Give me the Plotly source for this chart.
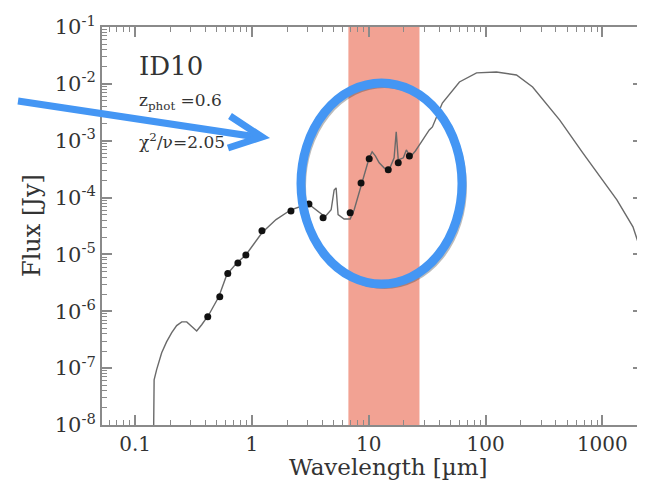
import plotly.graph_objects as go

# ---------------- data ----------------
wl_model = [0.1428, 0.1456, 0.153, 0.169, 0.186, 0.206, 0.227, 0.251, 0.277, 0.305,
            0.337, 0.372, 0.428, 0.521, 0.610, 0.743, 0.888, 1.22, 1.61, 2.16,
            2.69, 3.21, 3.76, 4.23, 4.77, 5.06, 5.26, 5.47, 6.16, 6.94,
            7.51, 8.63, 9.53, 10.1, 10.7, 11.4, 12.3, 13.6, 15.0, 16.5,
            17.2, 17.9, 19.8, 21.0, 22.7, 25.1, 27.1, 33.0, 35.1, 42.7,
            59.8, 83.8, 124, 184, 253, 432, 680, 1332, 1828, 2228, 2600]
flux_model = [1e-9, 6.25e-8, 9.4e-8, 1.86e-7, 2.9e-7, 4.2e-7, 5.6e-7, 6.5e-7, 6.5e-7, 5.35e-7,
              4.5e-7, 5.8e-7, 8.7e-7, 1.8e-6, 4.4e-6, 7.1e-6, 9.8e-6, 2.4e-5, 4.1e-5, 6.1e-5,
              7.1e-5, 7.1e-5, 5.6e-5, 4.6e-5, 6.1e-5, 1.36e-4, 1.48e-4, 5.0e-5, 4.2e-5, 4.2e-5,
              6.1e-5, 1.67e-4, 3.6e-4, 5.0e-4, 6.4e-4, 5.4e-4, 4.1e-4, 3.3e-4, 3.1e-4, 5.0e-4,
              1.43e-3, 4.6e-4, 5.0e-4, 6.9e-4, 5.2e-4, 6.6e-4, 8.4e-4, 1.55e-3, 1.75e-3, 4.6e-3,
              1.08e-2, 1.56e-2, 1.62e-2, 1.43e-2, 8.8e-3, 2.3e-3, 6.1e-4, 9.1e-5, 3.05e-5, 9.1e-6, 3.0e-6]

wl_obs = [0.419, 0.531, 0.622, 0.759, 0.888, 1.22, 2.16, 3.08, 4.07,
          6.94, 8.6, 10.1, 14.7, 17.9, 22.3]
flux_obs = [8.0e-7, 1.8e-6, 4.6e-6, 7.1e-6, 9.8e-6, 2.6e-5, 5.8e-5, 7.7e-5, 4.4e-5,
            5.4e-5, 1.8e-4, 4.8e-4, 3.1e-4, 4.1e-4, 5.4e-4]

band_wl = [6.7, 27.2]  # highlighted wavelength band (µm)

x_tickvals = [0.1, 1, 10, 100, 1000]
x_ticktext = ["0.1", "1", "10", "100", "1000"]
y_tickvals = [1e-8, 1e-7, 1e-6, 1e-5, 1e-4, 1e-3, 1e-2, 1e-1]
y_ticktext = ["10<sup>-8</sup>", "10<sup>-7</sup>", "10<sup>-6</sup>", "10<sup>-5</sup>",
              "10<sup>-4</sup>", "10<sup>-3</sup>", "10<sup>-2</sup>", "10<sup>-1</sup>"]

minor_x = [k * 10.0 ** e for e in range(-2, 4) for k in range(2, 10)]
minor_y = [k * 10.0 ** e for e in range(-9, 0) for k in range(2, 10)]

FONT = "DejaVu Serif"
TXT = "#333333"
AX = "#8a8a8a"
BLUE = "#4496F4"

fig = go.Figure()

# shaded band
fig.add_trace(go.Scatter(
    x=[band_wl[0], band_wl[1], band_wl[1], band_wl[0], band_wl[0]],
    y=[1e-10, 1e-10, 10, 10, 1e-10],
    fill="toself", fillcolor="#F2A293", line=dict(width=0),
    mode="lines", hoverinfo="skip", showlegend=False))

# model SED
fig.add_trace(go.Scatter(
    x=wl_model, y=flux_model, mode="lines",
    line=dict(color="#6a6a6a", width=1.4), showlegend=False))

# photometry
fig.add_trace(go.Scatter(
    x=wl_obs, y=flux_obs, mode="markers",
    marker=dict(color="#111111", size=7), showlegend=False))

axis_common = dict(
    type="log", showline=True, linecolor=AX, linewidth=2, mirror="ticks",
    ticks="inside", ticklen=10, tickwidth=1.5, tickcolor=AX,
    showgrid=False, zeroline=False, automargin=False,
    tickfont=dict(family=FONT, size=20, color=TXT),
)

fig.update_xaxes(
    **axis_common, range=[-1.283, 3.348],
    tickmode="array", tickvals=x_tickvals, ticktext=x_ticktext,
    minor=dict(tickmode="array", tickvals=minor_x, ticks="inside", ticklen=5,
               tickwidth=1, tickcolor=AX, showgrid=False),
)
fig.update_yaxes(
    **axis_common, range=[-8, -1],
    tickmode="array", tickvals=y_tickvals, ticktext=y_ticktext,
    minor=dict(tickmode="array", tickvals=minor_y, ticks="inside", ticklen=5,
               tickwidth=1, tickcolor=AX, showgrid=False),
)
fig.update_yaxes(tickfont=dict(family=FONT, size=21, color=TXT))

# page body has an 8px default margin, so the figure is shrunk by that amount
OFF = 8
W, H = 645 - OFF, 482 - OFF
L, R, T, B = 102 - OFF, 2, 27 - OFF, 57
pw, ph = W - L - R, H - T - B


def px(x):
    return (x - OFF - L) / pw


def py(y):
    return (H - B - (y - OFF)) / ph


annotations = [
    dict(text="ID10", x=px(137), y=py(66), xanchor="left", yanchor="middle",
         font=dict(family=FONT, size=26, color=TXT)),
    dict(text="z<sub>phot</sub> =0.6", x=px(137), y=py(101), xanchor="left", yanchor="middle",
         font=dict(family=FONT, size=17, color=TXT)),
    dict(text="χ<sup>2</sup>/ν=2.05", x=px(137), y=py(141), xanchor="left", yanchor="middle",
         font=dict(family=FONT, size=17, color=TXT)),
    dict(text="Flux [Jy]", x=px(32), y=py(226), textangle=-90, xanchor="center", yanchor="middle",
         font=dict(family=FONT, size=24, color=TXT)),
    dict(text="Wavelength [µm]", x=px(388), y=py(467), xanchor="center", yanchor="middle",
         font=dict(family=FONT, size=23, color=TXT)),
]
for a in annotations:
    a.update(xref="paper", yref="paper", showarrow=False)

shapes = [
    # shadow of ellipse
    dict(type="circle", xref="paper", yref="paper",
         x0=px(304), x1=px(465), y0=py(287), y1=py(86),
         line=dict(color="rgba(60,60,60,0.35)", width=4)),
    dict(type="circle", xref="paper", yref="paper",
         x0=px(301), x1=px(462), y0=py(284), y1=py(83),
         line=dict(color=BLUE, width=9)),
    # arrow shaft
    dict(type="path", xref="paper", yref="paper",
         path=f"M {px(18)},{py(101)} L {px(257)},{py(137)}",
         line=dict(color=BLUE, width=7)),
    # arrow head
    dict(type="path", xref="paper", yref="paper",
         path=f"M {px(230)},{py(116)} L {px(262)},{py(137)} L {px(228)},{py(148)}",
         line=dict(color=BLUE, width=7)),
]

fig.update_layout(
    width=W, height=H,
    margin=dict(l=L, r=R, t=T, b=B, pad=0, autoexpand=False),
    paper_bgcolor="white", plot_bgcolor="white",
    annotations=annotations, shapes=shapes,
    showlegend=False,
)

fig.write_html("out.html")
